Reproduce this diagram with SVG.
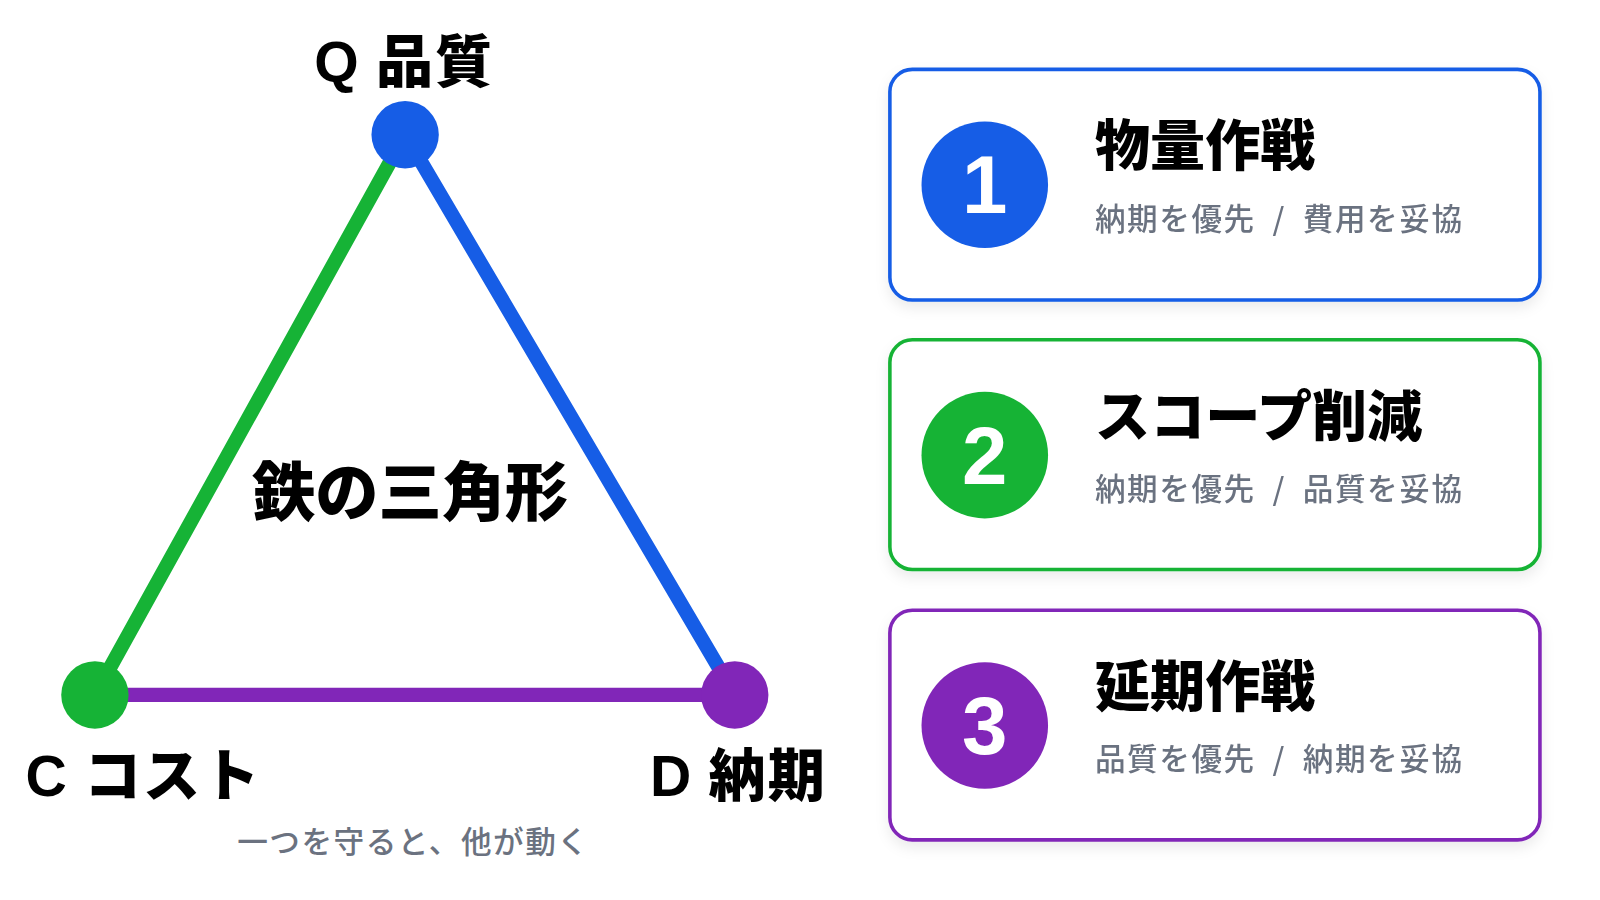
<svg xmlns="http://www.w3.org/2000/svg" width="1600" height="900" viewBox="0 0 1600 900">
<style>
.h{font-family:"Noto Sans CJK JP","Noto Sans",sans-serif;font-weight:900;fill:#000}
.l{font-family:"Liberation Sans","Noto Sans CJK JP",sans-serif;font-weight:700}
.s{font-family:"Noto Sans CJK JP","Noto Sans",sans-serif;font-weight:500;fill:#6b7280;font-size:30px;letter-spacing:1.5px}
.card{fill:#fff;stroke-width:3.5}
.num{font-family:"Liberation Sans","Noto Sans",sans-serif;font-weight:900;fill:#fff;font-size:80px;text-anchor:middle}
</style>
<defs><filter id="sh" x="-10%" y="-10%" width="120%" height="130%"><feDropShadow dx="0" dy="6" stdDeviation="6" flood-color="#000" flood-opacity="0.08"/></filter></defs>
<rect width="1600" height="900" fill="#fff"/>
<g transform="scale(1.0205)">
<g id="connectors" stroke-width="14" stroke-linecap="round">
<line x1="93" y1="681" x2="397" y2="132" stroke="#16b336"/>
<line x1="397" y1="132" x2="720" y2="681" stroke="#165de6"/>
<line x1="93" y1="681" x2="720" y2="681" stroke="#8126b8"/>
</g>
<g id="nodeQ"><circle cx="397" cy="132" r="33" fill="#165de6"/><text class="h" x="308" y="80" font-size="56" letter-spacing="2"><tspan class="l">Q</tspan> 品質</text></g>
<g id="nodeC"><circle cx="93" cy="681" r="33" fill="#16b336"/><text class="h" x="25" y="780" font-size="56" letter-spacing="2"><tspan class="l">C</tspan> コスト</text></g>
<g id="nodeD"><circle cx="720" cy="681" r="33" fill="#8126b8"/><text class="h" x="637" y="780" font-size="56" letter-spacing="2"><tspan class="l">D</tspan> 納期</text></g>
<g id="center"><text class="h" x="402" y="505" font-size="62" text-anchor="middle">鉄の三角形</text>
<text class="s" x="405" y="836" text-anchor="middle">一つを守ると、他が動く</text></g>
<g id="card1" filter="url(#sh)"><rect class="card" x="872" y="68" width="637" height="226" rx="22" stroke="#165de6"/>
<circle cx="965" cy="181" r="62" fill="#165de6"/><text class="num" x="965" y="209">1</text>
<text class="h" x="1073" y="162" font-size="54">物量作戦</text><text class="s" x="1073" y="225" xml:space="preserve">納期を優先  /  費用を妥協</text></g>
<g id="card2" filter="url(#sh)"><rect class="card" x="872" y="333" width="637" height="225" rx="22" stroke="#16b336"/>
<circle cx="965" cy="446" r="62" fill="#16b336"/><text class="num" x="965" y="474">2</text>
<text class="h" x="1073" y="427" font-size="54">スコープ削減</text><text class="s" x="1073" y="490" xml:space="preserve">納期を優先  /  品質を妥協</text></g>
<g id="card3" filter="url(#sh)"><rect class="card" x="872" y="598" width="637" height="225" rx="22" stroke="#8126b8"/>
<circle cx="965" cy="711" r="62" fill="#8126b8"/><text class="num" x="965" y="739">3</text>
<text class="h" x="1073" y="692" font-size="54">延期作戦</text><text class="s" x="1073" y="755" xml:space="preserve">品質を優先  /  納期を妥協</text></g>
</g>
</svg>
